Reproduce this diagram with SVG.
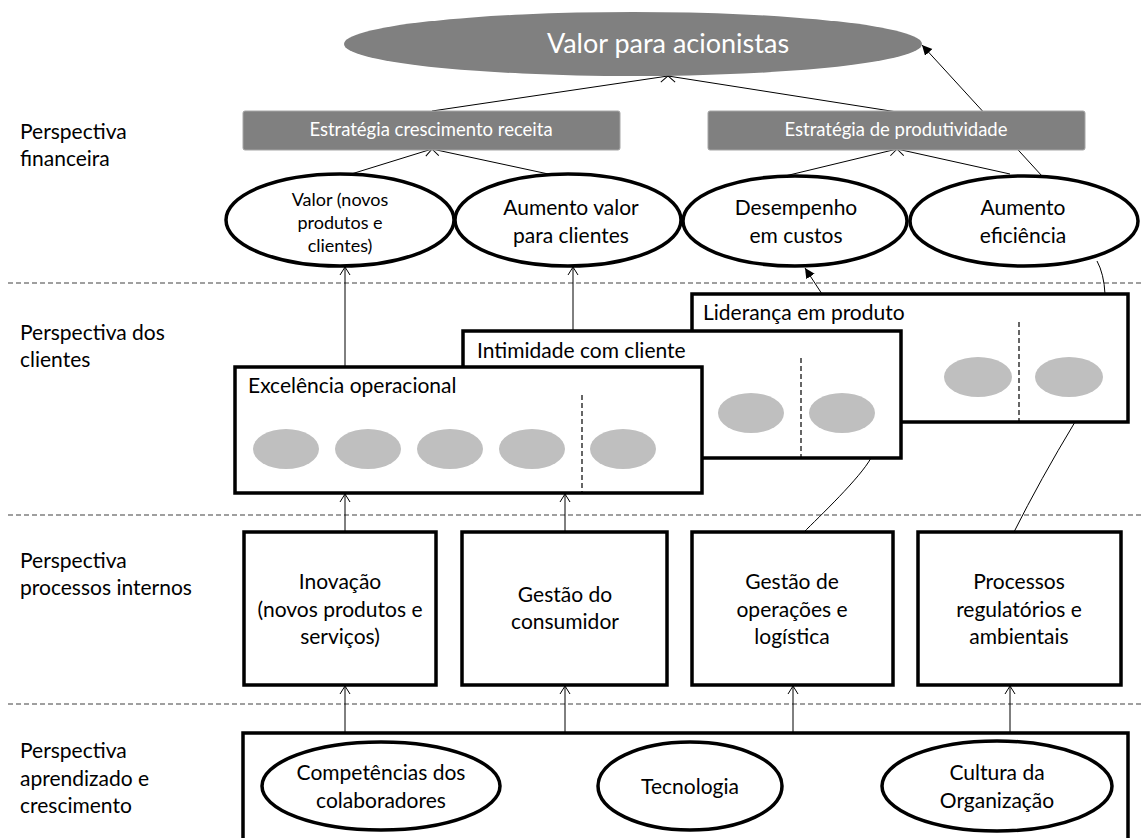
<svg xmlns="http://www.w3.org/2000/svg" width="1141" height="838" viewBox="0 0 1141 838">
  <defs>
    <style>
      .t { font-family: Lato, "Liberation Sans", sans-serif; fill: #000; }
      .w { font-family: Lato, "Liberation Sans", sans-serif; fill: #fff; }
      .m { text-anchor: middle; }
      .box { fill: #fff; stroke: #000; stroke-width: 3.5; }
      .oval { fill: #fff; stroke: #000; stroke-width: 3.5; }
      .band { fill: #808080; stroke: #a6a6a6; stroke-width: 1; }
      .dot { fill: #bfbfbf; }
      .sep { stroke: #404040; stroke-width: 1.2; stroke-dasharray: 5 3; fill: none; }
      .vsep { stroke: #000; stroke-width: 1.2; stroke-dasharray: 5 3; fill: none; }
      .conn { stroke: #000; stroke-width: 1; fill: none; }
      .open { marker-end: url(#open); }
      .solid { marker-end: url(#solid); }
    </style>
    <marker id="open" markerWidth="12" markerHeight="12" refX="9" refY="6" orient="auto" markerUnits="userSpaceOnUse">
      <path d="M1 1 L9 6 L1 11" fill="none" stroke="#000" stroke-width="1"/>
    </marker>
    <marker id="solid" markerWidth="12" markerHeight="12" refX="10" refY="5" orient="auto" markerUnits="userSpaceOnUse">
      <path d="M0 0 L10 5 L0 10 z" fill="#000"/>
    </marker>
  </defs>

  <!-- perspective bands -->
  <g id="bands">
    <line class="sep" x1="8" y1="283" x2="1141" y2="283"/>
    <line class="sep" x1="8" y1="515" x2="1141" y2="515"/>
    <line class="sep" x1="8" y1="704" x2="1141" y2="704"/>
    <text class="t" font-size="21" x="20" y="139">Perspectiva</text>
    <text class="t" font-size="21" x="20" y="166">financeira</text>
    <text class="t" font-size="21" x="20" y="340">Perspectiva dos</text>
    <text class="t" font-size="21" x="20" y="367">clientes</text>
    <text class="t" font-size="21" x="20" y="568">Perspectiva</text>
    <text class="t" font-size="21" x="20" y="595">processos internos</text>
    <text class="t" font-size="21" x="20" y="758">Perspectiva</text>
    <text class="t" font-size="21" x="20" y="786">aprendizado e</text>
    <text class="t" font-size="21" x="20" y="813">crescimento</text>
  </g>

  <!-- connectors -->
  <g id="connectors">
    <line class="conn open" x1="432" y1="111" x2="668" y2="76"/>
    <line class="conn open" x1="897" y1="112" x2="668" y2="76"/>
    <line class="conn solid" x1="1042" y1="176" x2="922" y2="45"/>
    <line class="conn open" x1="348" y1="175" x2="432" y2="149"/>
    <line class="conn open" x1="553" y1="175" x2="432" y2="149"/>
    <line class="conn open" x1="785" y1="176" x2="897" y2="149"/>
    <line class="conn open" x1="1010" y1="174" x2="897" y2="149"/>
    <line class="conn open" x1="345" y1="367" x2="345" y2="267"/>
    <line class="conn open" x1="573" y1="331" x2="573" y2="267"/>
    <line class="conn solid" x1="822" y1="294" x2="805" y2="268"/>
    <path class="conn" d="M1105 294 Q1104 274 1097 261"/>
    <path class="conn" d="M803 533 C820 516 860 478 871 458"/>
    <path class="conn" d="M1014 532 Q1040 480 1075 422"/>
    <line class="conn open" x1="345" y1="532" x2="345" y2="494"/>
    <line class="conn open" x1="565" y1="532" x2="565" y2="494"/>
    <line class="conn open" x1="345" y1="733" x2="345" y2="686"/>
    <line class="conn open" x1="565" y1="733" x2="565" y2="686"/>
    <line class="conn open" x1="793" y1="733" x2="793" y2="686"/>
    <line class="conn open" x1="1010" y1="733" x2="1010" y2="686"/>
  </g>

  <!-- shareholder value -->
  <g id="valor-acionistas">
    <ellipse cx="633" cy="44" rx="289" ry="32" fill="#808080"/>
    <text class="w m" font-size="27" x="668" y="53">Valor para acionistas</text>
  </g>

  <g id="estrategia-receita">
    <rect class="band" x="243" y="111" width="377" height="39" rx="2"/>
    <text class="w m" font-size="18.5" x="431" y="136">Estratégia crescimento receita</text>
  </g>
  <g id="estrategia-produtividade">
    <rect class="band" x="708" y="111" width="377" height="39" rx="2"/>
    <text class="w m" font-size="18.5" x="896" y="136">Estratégia de produtividade</text>
  </g>

  <!-- financial objectives -->
  <g id="valor-novos">
    <ellipse class="oval" cx="340" cy="220" rx="114" ry="46"/>
    <text class="t m" font-size="18" x="340" y="206">Valor (novos</text>
    <text class="t m" font-size="18" x="340" y="229">produtos e</text>
    <text class="t m" font-size="18" x="340" y="252">clientes)</text>
  </g>
  <g id="aumento-valor">
    <ellipse class="oval" cx="568" cy="220" rx="113" ry="46"/>
    <text class="t m" font-size="21" x="571" y="215">Aumento valor</text>
    <text class="t m" font-size="21" x="571" y="243">para clientes</text>
  </g>
  <g id="desempenho-custos">
    <ellipse class="oval" cx="795" cy="221" rx="112" ry="45"/>
    <text class="t m" font-size="21" x="796" y="215">Desempenho</text>
    <text class="t m" font-size="21" x="796" y="243">em custos</text>
  </g>
  <g id="aumento-eficiencia">
    <ellipse class="oval" cx="1024" cy="221" rx="114" ry="45"/>
    <text class="t m" font-size="21" x="1023" y="215">Aumento</text>
    <text class="t m" font-size="21" x="1023" y="243">eficiência</text>
  </g>

  <!-- customer value propositions -->
  <g id="lideranca-produto">
    <rect class="box" x="692" y="294" width="436" height="128"/>
    <text class="t" font-size="21" x="703" y="320">Liderança em produto</text>
    <line class="vsep" x1="1019" y1="322" x2="1019" y2="422"/>
    <ellipse class="dot" cx="978" cy="377" rx="34" ry="20"/>
    <ellipse class="dot" cx="1069" cy="377" rx="34" ry="20"/>
  </g>
  <g id="intimidade-cliente">
    <rect class="box" x="463" y="331" width="438" height="127"/>
    <text class="t" font-size="21" x="477" y="358">Intimidade com cliente</text>
    <line class="vsep" x1="801" y1="358" x2="801" y2="458"/>
    <ellipse class="dot" cx="751" cy="413" rx="33" ry="20"/>
    <ellipse class="dot" cx="842" cy="413" rx="33" ry="20"/>
  </g>
  <g id="excelencia-operacional">
    <rect class="box" x="235" y="367" width="467" height="126"/>
    <text class="t" font-size="21" x="248" y="393">Excelência operacional</text>
    <line class="vsep" x1="582" y1="395" x2="582" y2="493"/>
    <ellipse class="dot" cx="286" cy="449" rx="33" ry="20"/>
    <ellipse class="dot" cx="368" cy="449" rx="33" ry="20"/>
    <ellipse class="dot" cx="450" cy="449" rx="33" ry="20"/>
    <ellipse class="dot" cx="532" cy="449" rx="33" ry="20"/>
    <ellipse class="dot" cx="623" cy="449" rx="33" ry="20"/>
  </g>

  <!-- internal processes -->
  <g id="inovacao">
    <rect class="box" x="244" y="532" width="192" height="153"/>
    <text class="t m" font-size="21" x="340" y="589">Inovação</text>
    <text class="t m" font-size="21" x="340" y="617">(novos produtos e</text>
    <text class="t m" font-size="21" x="340" y="644">serviços)</text>
  </g>
  <g id="gestao-consumidor">
    <rect class="box" x="462" y="532" width="205" height="153"/>
    <text class="t m" font-size="21" x="565" y="602">Gestão do</text>
    <text class="t m" font-size="21" x="565" y="629">consumidor</text>
  </g>
  <g id="gestao-operacoes">
    <rect class="box" x="692" y="532" width="201" height="153"/>
    <text class="t m" font-size="21" x="792" y="589">Gestão de</text>
    <text class="t m" font-size="21" x="792" y="617">operações e</text>
    <text class="t m" font-size="21" x="792" y="644">logística</text>
  </g>
  <g id="processos-regulatorios">
    <rect class="box" x="918" y="532" width="203" height="153"/>
    <text class="t m" font-size="21" x="1019" y="589">Processos</text>
    <text class="t m" font-size="21" x="1019" y="617">regulatórios e</text>
    <text class="t m" font-size="21" x="1019" y="644">ambientais</text>
  </g>

  <!-- learning and growth -->
  <g id="aprendizado">
    <rect class="box" x="243" y="733" width="885" height="110"/>
  </g>
  <g id="competencias">
    <ellipse class="oval" cx="381" cy="786" rx="119" ry="44"/>
    <text class="t m" font-size="21" x="381" y="780">Competências dos</text>
    <text class="t m" font-size="21" x="381" y="808">colaboradores</text>
  </g>
  <g id="tecnologia">
    <ellipse class="oval" cx="690" cy="786" rx="92" ry="44"/>
    <text class="t m" font-size="21" x="690" y="794">Tecnologia</text>
  </g>
  <g id="cultura">
    <ellipse class="oval" cx="997" cy="786" rx="115" ry="45"/>
    <text class="t m" font-size="21" x="997" y="780">Cultura da</text>
    <text class="t m" font-size="21" x="997" y="808">Organização</text>
  </g>
</svg>
